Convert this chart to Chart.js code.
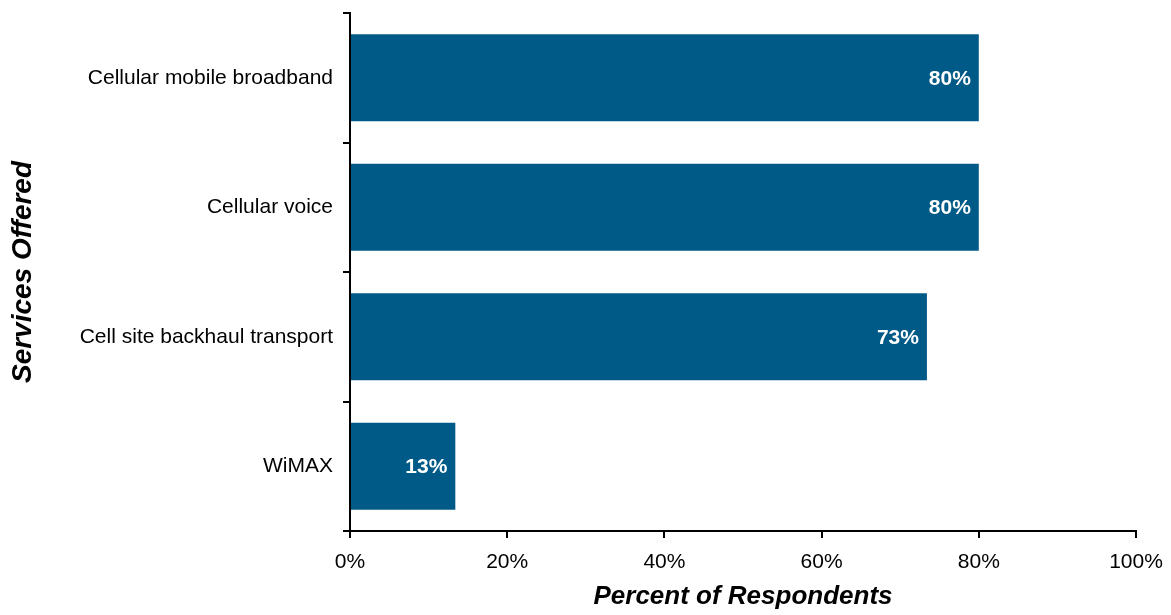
<!DOCTYPE html>
<html>
<head>
<meta charset="utf-8">
<script src="https://cdn.jsdelivr.net/npm/chart.js@4"></script>
<style>
  html, body { margin: 0; padding: 0; background: #fff; }
  #wrap { width: 1171px; height: 615px; }
</style>
</head>
<body>
<div id="wrap"><canvas id="servicesChart" width="1171" height="615"></canvas></div>
<script>
const services = ["Cellular mobile broadband", "Cellular voice", "Cell site backhaul transport", "WiMAX"];
const percentRespondents = [80, 80, 73.4, 13.4];
const percentTicks = [0, 20, 40, 60, 80, 100];

const barColor = "#005a87";
const fontFamily = "'Liberation Sans', Arial, sans-serif";

// white value labels inside the end of each bar
const valueLabels = {
  id: "valueLabels",
  afterDatasetsDraw(chart) {
    const ctx = chart.ctx;
    const meta = chart.getDatasetMeta(0);
    ctx.save();
    ctx.font = "bold 21px " + fontFamily;
    ctx.fillStyle = "#ffffff";
    ctx.textAlign = "right";
    ctx.textBaseline = "middle";
    meta.data.forEach((bar, i) => {
      ctx.fillText(Math.round(percentRespondents[i]) + "%", bar.x - 8, bar.y + 1);
    });
    ctx.restore();
  },
};

new Chart(document.getElementById("servicesChart"), {
  type: "bar",
  data: {
    labels: services,
    datasets: [
      {
        data: percentRespondents,
        backgroundColor: barColor,
        borderWidth: 0,
        categoryPercentage: 1,
        barPercentage: 0.67,
      },
    ],
  },
  options: {
    indexAxis: "y",
    responsive: false,
    animation: false,
    layout: { padding: { top: 13, right: 35, bottom: 0, left: 0 } },
    plugins: {
      legend: { display: false },
      tooltip: { enabled: false },
    },
    scales: {
      x: {
        min: 0,
        max: 100,
        afterBuildTicks: (scale) => {
          scale.ticks = percentTicks.map((v) => ({ value: v }));
        },
        afterFit: (scale) => {
          scale.height = 84;
          scale.paddingLeft = 0;
          scale.paddingRight = 0;
        },
        ticks: {
          callback: (v) => v + "%",
          color: "#000",
          padding: 12,
          font: { family: fontFamily, size: 21 },
        },
        grid: {
          drawOnChartArea: false,
          drawTicks: true,
          tickLength: 7,
          color: "#000",
          lineWidth: 2,
        },
        border: { color: "#000", width: 2 },
        title: {
          display: true,
          text: "Percent of Respondents",
          color: "#000",
          padding: { top: 0, bottom: 3 },
          font: { family: fontFamily, size: 26, weight: "bold", style: "italic" },
        },
      },
      y: {
        afterFit: (scale) => {
          scale.width = 350;
          scale.paddingTop = 0;
          scale.paddingBottom = 0;
        },
        ticks: {
          color: "#000",
          padding: 10,
          font: { family: fontFamily, size: 21 },
        },
        grid: {
          offset: true,
          drawOnChartArea: false,
          drawTicks: true,
          tickLength: 7,
          color: "#000",
          lineWidth: 2,
        },
        border: { color: "#000", width: 2 },
        title: {
          display: true,
          text: "Services Offered",
          color: "#000",
          padding: { top: 6, bottom: 0 },
          font: { family: fontFamily, size: 28, weight: "bold", style: "italic" },
        },
      },
    },
  },
  plugins: [valueLabels],
});
</script>
</body>
</html>
